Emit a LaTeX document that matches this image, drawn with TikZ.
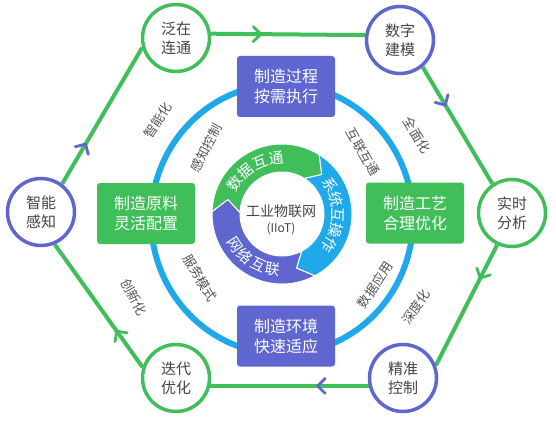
\documentclass[tikz,border=0pt]{standalone}
\usepackage{fontspec}
\setmainfont{Noto Sans CJK SC}
\usetikzlibrary{decorations.markings}
\definecolor{cgreen}{HTML}{40BE5A}
\definecolor{cpurple}{HTML}{5F66CF}
\definecolor{cblue}{HTML}{1FA8EA}
\definecolor{ctext}{HTML}{444444}
\definecolor{clabel}{HTML}{555555}
\pgfdeclarelayer{bg}
\pgfsetlayers{bg,main}
\begin{document}
\begin{tikzpicture}[x=1pt,y=1pt,
  hub/.style={circle, draw=#1, line width=3.5pt, fill=white, minimum size=67pt, inner sep=0pt, align=center, text=ctext, font=\fontsize{15}{19}\selectfont},
  panel/.style={rectangle, rounded corners=3pt, fill=#1, minimum width=98pt, minimum height=61pt, align=center, text=white, font=\fontsize{16}{20}\selectfont},
  flow/.style={draw=cgreen, line width=4pt},
  lbl/.style={text=clabel, font=\fontsize{13}{13}\selectfont, inner sep=0pt},
  arcch/.style={text=white, font=\fontsize{15}{15}\selectfont, inner sep=0pt},
  chev/.style 2 args={postaction={decorate, decoration={markings, mark=at position #1 with {\draw[draw=#2, line width=2.8pt, line cap=round, line join=round] (-4pt,7.5pt) -- (3.5pt,0pt) -- (-4pt,-7.5pt);}}}},
]
\path[use as bounding box] (0,0) rectangle (556,-422);

% blue ring
\draw[cblue, line width=6pt] (282,-219) ellipse [x radius=131pt, y radius=135pt];

% boxes
\node[panel=cpurple] (P1) at (286,-86.5) {制造过程\\按需执行};
\node[panel=cgreen] (P2) at (146,-213.5) {制造原料\\灵活配置};
\node[panel=cgreen] (P3) at (415,-213) {制造工艺\\合理优化};
\node[panel=cpurple] (P4) at (286,-336) {制造环境\\快速适应};

% inner cycle
\begin{scope}[shift={(282,-214)}]
\foreach \a/\b/\c in {58/-62/cblue, -62/-182/cpurple, 178/58/cgreen} {
  \pgfmathsetmacro{\bt}{\b-13}
  \pgfmathsetmacro{\at}{\a-13}
  \filldraw[fill=\c, draw=white, line width=1pt]
    (\a:70pt) arc[start angle=\a, end angle=\b, radius=70pt]
    -- (\bt:56pt) -- (\b:42pt)
    arc[start angle=\b, end angle=\a, radius=42pt]
    -- (\at:56pt) -- cycle;
}
\foreach \ch [count=\i] in {数,据,互,通} {
  \pgfmathsetmacro{\ang}{147-17*(\i-1)}
  \node[arcch, rotate=\ang-90] (ga\i) at (\ang:56pt) {\ch};
}
\foreach \ch [count=\i] in {系,统,互,操,作} {
  \pgfmathsetmacro{\ang}{31-16*(\i-1)}
  \node[arcch, rotate=\ang-90] (ba\i) at (\ang:56pt) {\ch};
}
\foreach \ch [count=\i] in {网,络,互,联} {
  \pgfmathsetmacro{\ang}{213+16*(\i-1)}
  \node[arcch, rotate=\ang+90] (pa\i) at (\ang:56pt) {\ch};
}
\end{scope}
\node[text=ctext, font=\fontsize{14}{14}\selectfont] (cen1) at (281,-211) {工业物联网};
\node[text=ctext, font=\fontsize{12}{12}\selectfont] (cen2) at (281,-229) {(IIoT)};

% rotated labels
\node[lbl, rotate=57] (l1) at (158,-120) {智能化};
\node[lbl, rotate=62] (l2) at (206,-148) {感知控制};
\node[lbl, rotate=-59] (l3) at (417,-135) {全面化};
\node[lbl, rotate=-60] (l4) at (363,-152) {互联互通};
\node[lbl, rotate=-61] (l5) at (134,-297) {创新化};
\node[lbl, rotate=-59] (l6) at (200,-278) {服务模式};
\node[lbl, rotate=57] (l7) at (375,-285) {数据应用};
\node[lbl, rotate=56] (l8) at (416,-307) {深度化};

% hubs
\node[hub=cgreen] (A) at (176,-38) {泛在\\连通};
\node[hub=cpurple] (B) at (400,-40) {数字\\建模};
\node[hub=cgreen] (C) at (512,-213) {实时\\分析};
\node[hub=cpurple] (D) at (403,-378) {精准\\控制};
\node[hub=cgreen] (E) at (176,-378) {迭代\\优化};
\node[hub=cpurple] (F) at (41,-212) {智能\\感知};

\begin{pgfonlayer}{bg}
\fill[white] (0,0) rectangle (556,-422);
\draw[flow, chev={0.3}{cgreen}] (A.7) -- (B.172);
\draw[flow, chev={0.3}{cpurple}] (B.-50) -- (C.124);
\draw[flow, chev={0.25}{cgreen}] (C.-115) -- (D.21);
\draw[flow, chev={0.3}{cpurple}] (D.193) -- (E.-13);
\draw[flow, chev={0.27}{cgreen}] (E.162) -- (F.-67);
\draw[flow, chev={0.27}{cpurple}] (F.53) -- (A.196);
\end{pgfonlayer}
\end{tikzpicture}
\end{document}
